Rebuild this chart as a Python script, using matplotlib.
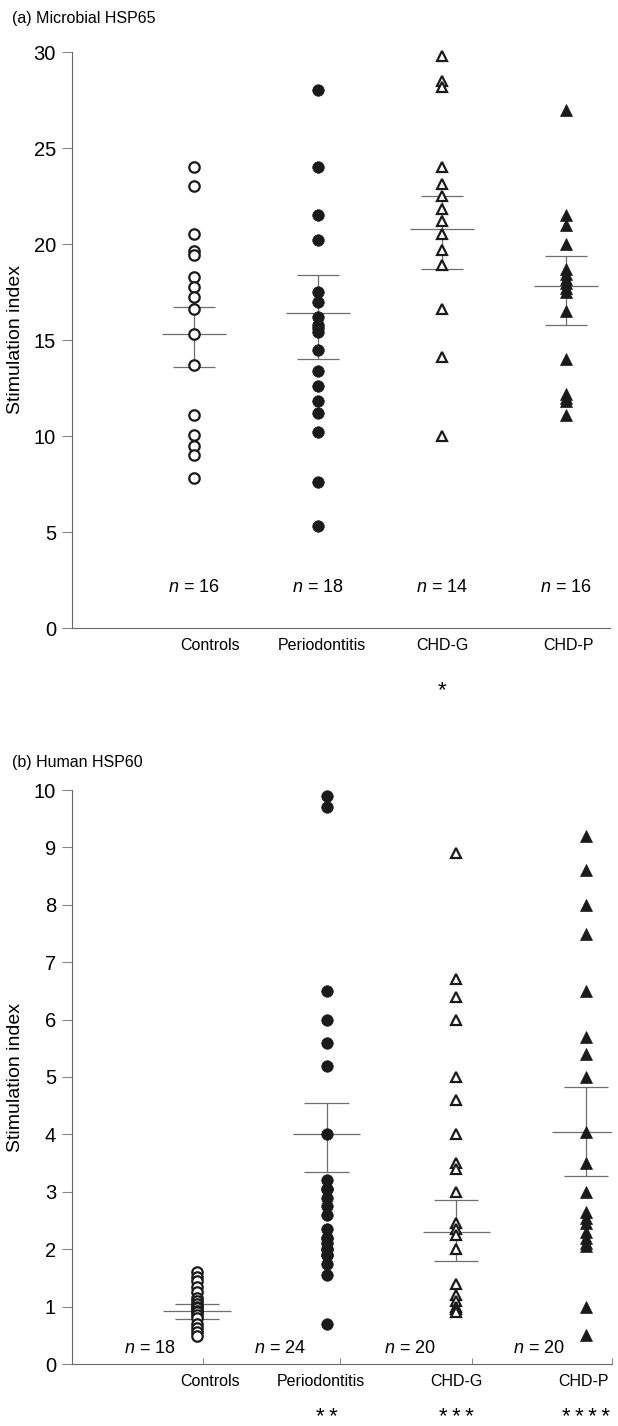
import numpy as np
import matplotlib
matplotlib.use("Agg")
import matplotlib.pyplot as plt

plt.rcParams['font.family'] = ['Liberation Sans', 'DejaVu Sans']
plt.rcParams['mathtext.fontset'] = 'custom'
plt.rcParams['mathtext.it'] = 'Liberation Sans:italic'
plt.rcParams['mathtext.rm'] = 'Liberation Sans'

# ---------------- data ----------------
groups = ['Controls', 'Periodontitis', 'CHD-G', 'CHD-P']

# (a) Microbial HSP65
a_controls = [24.0, 23.0, 20.5, 19.65, 19.45, 18.3, 17.75, 17.25, 16.6, 15.3, 13.7, 11.1, 10.05, 9.5, 9.0, 7.8]
a_perio = [28.0, 24.0, 21.5, 20.2, 17.5, 17.0, 16.2, 15.8, 15.6, 15.4, 14.5, 13.4, 12.6, 11.8, 11.2, 10.2, 7.6, 5.3]
a_chdg = [29.8, 28.5, 28.2, 24.0, 23.1, 22.5, 21.8, 21.2, 20.5, 19.7, 18.9, 16.6, 14.1, 10.0]
a_chdp = [27.0, 21.5, 21.0, 20.0, 18.7, 18.45, 18.2, 17.95, 17.7, 17.5, 16.5, 14.0, 12.2, 12.0, 11.8, 11.1]
a_mean = [15.3, 16.4, 20.8, 17.8]
a_hi = [16.7, 18.4, 22.5, 19.4]
a_lo = [13.6, 14.0, 18.7, 15.8]
a_n = [16, 18, 14, 16]
a_stars = ['', '', '*', '']

# (b) Human HSP60
b_controls = [1.6, 1.52, 1.45, 1.35, 1.25, 1.15, 1.1, 1.05, 1.0, 0.97, 0.93, 0.9, 0.85, 0.8, 0.7, 0.62, 0.55, 0.48]
b_perio = [9.9, 9.7, 6.5, 6.0, 5.6, 5.2, 4.0, 3.2, 3.05, 3.05, 2.9, 2.75, 2.6, 2.35,
           2.2, 2.2, 2.1, 2.0, 2.0, 1.9, 1.9, 1.75, 1.55, 0.7]
b_chdg = [8.9, 6.7, 6.4, 6.0, 5.0, 4.6, 4.0, 3.5, 3.4, 3.0, 2.45, 2.35, 2.25, 2.0, 1.4, 1.2, 1.1, 1.0, 0.95, 0.9]
b_chdp = [9.2, 8.6, 8.0, 7.5, 6.5, 5.7, 5.4, 5.0, 4.05, 3.5, 3.0, 2.65, 2.55, 2.45, 2.3, 2.2, 2.1, 2.05, 1.0, 0.5]
b_mean = [0.92, 4.0, 2.3, 4.05]
b_hi = [1.05, 4.55, 2.85, 4.83]
b_lo = [0.78, 3.35, 1.8, 3.28]
b_n = [18, 24, 20, 20]
b_stars = ['', '**', '***', '****']

# ---------------- styles ----------------
marker_styles = [
    dict(marker='o', mfc='white', mec='#1a1a1a', mew=1.6, ms=7.5),
    dict(marker='o', mfc='#1a1a1a', mec='#1a1a1a', mew=0.5, ms=8.3),
    dict(marker='^', mfc='white', mec='#1a1a1a', mew=1.6, ms=7.5),
    dict(marker='^', mfc='#1a1a1a', mec='#1a1a1a', mew=0.5, ms=8.3),
]
W, H = 618, 1426
line_col = '#6e6e6e'


def draw_panel(ax, series, means, his, los, ns, stars, ymax, yticks,
               label_pos, n_dx, n_y, star_y, minor_ticks):
    for i, vals in enumerate(series):
        x = np.full(len(vals), i, dtype=float)
        ax.plot(x, vals, ls='none', clip_on=False, zorder=3, **marker_styles[i])
        ax.hlines(means[i], i - 0.26, i + 0.26, color=line_col, lw=0.9, zorder=2)
        ax.hlines([his[i], los[i]], i - 0.17, i + 0.17, color=line_col, lw=0.9, zorder=2)
        ax.vlines(i, los[i], his[i], color=line_col, lw=0.9, zorder=2)
        ax.text(i + n_dx, n_y, r'$n$ = %d' % ns[i], ha='center', va='center', fontsize=13)
        if stars[i]:
            ax.annotate('\u2009'.join(stars[i]), xy=(i, star_y), xycoords=('data', 'axes fraction'),
                        ha='center', va='center', fontsize=16)
    ax.set_ylim(0, ymax)
    ax.set_yticks(yticks)
    ax.set_xticks(label_pos)
    ax.set_xticklabels(groups, fontsize=11.5)
    ax.set_xticks(minor_ticks, minor=True)
    ax.tick_params(axis='x', which='major', length=0, pad=7)
    ax.tick_params(axis='x', which='minor', direction='in', length=4, color='#888888', width=0.7)
    ax.tick_params(axis='y', direction='out', length=7.5, width=0.8, color='#888888',
                   labelsize=14.5, pad=4)
    for s in ['top', 'right']:
        ax.spines[s].set_visible(False)
    for s in ['left', 'bottom']:
        ax.spines[s].set_color('#666666')
        ax.spines[s].set_linewidth(0.8)


fig = plt.figure(figsize=(W / 100, H / 100), dpi=100)

# panel (a): axis from x=72..610 px, y=52..628 px ; points at 194 + 124*i
ax1 = fig.add_axes([72 / W, 1 - 628 / H, (610 - 72) / W, (628 - 52) / H])
ax1.set_xlim((72 - 194) / 124, (610 - 194) / 124)
draw_panel(ax1, [a_controls, a_perio, a_chdg, a_chdp], a_mean, a_hi, a_lo, a_n, a_stars,
           30, np.arange(0, 31, 5), [0.13, 1.03, 2.0, 3.02], 0.0, 2.1, -0.108, [])

# panel (b): axis from x=72..612 px, y=790..1364 px ; points at 197 + 130*i
ax2 = fig.add_axes([72 / W, 1 - 1364 / H, (612 - 72) / W, (1364 - 790) / H])
ax2.set_xlim((72 - 197) / 130, (612 - 197) / 130)
draw_panel(ax2, [b_controls, b_perio, b_chdg, b_chdp], b_mean, b_hi, b_lo, b_n, b_stars,
           10, np.arange(0, 11, 1), [0.1, 0.96, 2.0, 2.98], -0.36, 0.27, -0.094,
           [0.05, 1.1, 2.12, 3.2])

fig.text(12 / W, 1 - 18 / H, '(a) Microbial HSP65', ha='left', va='center', fontsize=11.5)
fig.text(12 / W, 1 - 762 / H, '(b) Human HSP60', ha='left', va='center', fontsize=11.5)
fig.text(16 / W, 1 - 340 / H, 'Stimulation index', rotation=90, ha='center', va='center', fontsize=14)
fig.text(16 / W, 1 - 1078 / H, 'Stimulation index', rotation=90, ha='center', va='center', fontsize=14)

fig.savefig('out.png', dpi=100)
